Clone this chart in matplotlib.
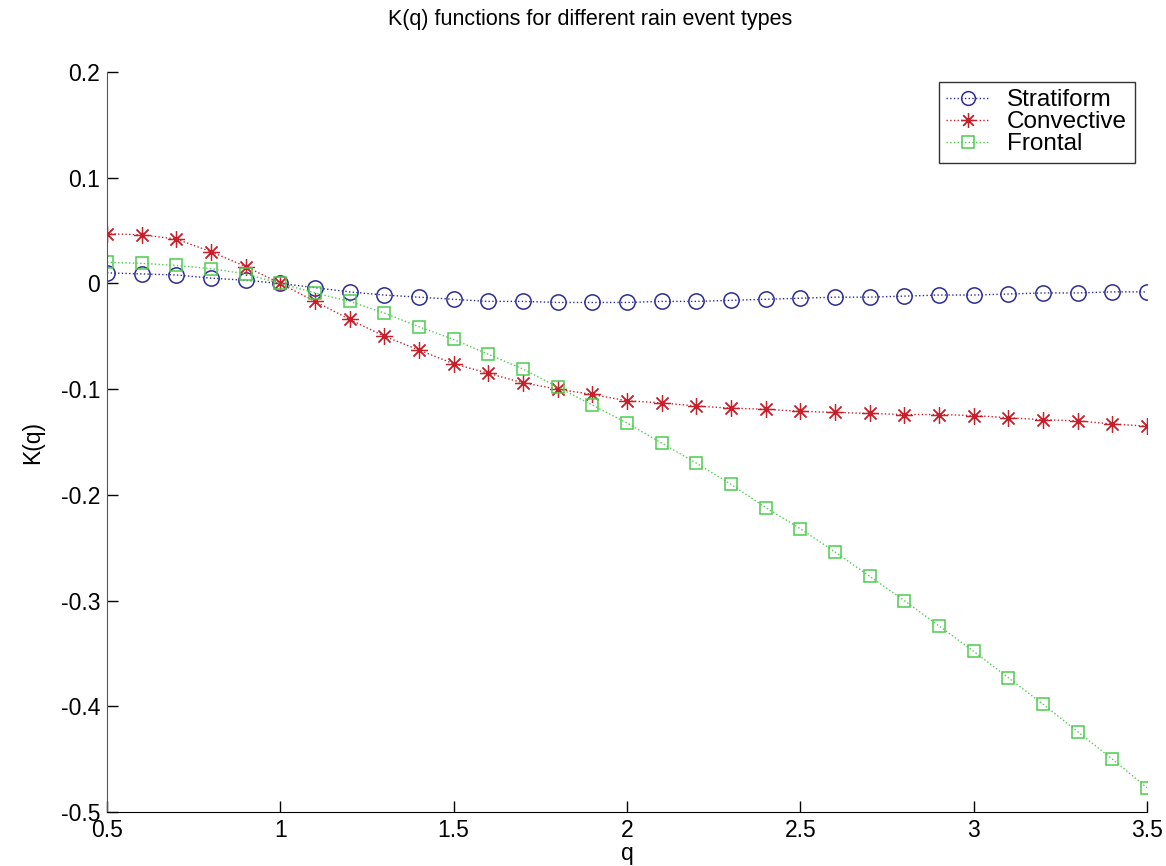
import numpy as np
import matplotlib
matplotlib.use("Agg")
import matplotlib.pyplot as plt
from matplotlib.ticker import FormatStrFormatter

plt.rcParams['font.family'] = ['Liberation Sans', 'DejaVu Sans']
plt.rcParams['axes.unicode_minus'] = False

q = [0.5, 0.6, 0.7, 0.8, 0.9, 1.0, 1.1, 1.2, 1.3, 1.4, 1.5, 1.6, 1.7, 1.8, 1.9, 2.0,
     2.1, 2.2, 2.3, 2.4, 2.5, 2.6, 2.7, 2.8, 2.9, 3.0, 3.1, 3.2, 3.3, 3.4, 3.5]

stratiform = [0.010, 0.009, 0.008, 0.005, 0.003, 0.0, -0.004, -0.008, -0.011, -0.013,
              -0.015, -0.017, -0.017, -0.018, -0.018, -0.018, -0.017, -0.017, -0.016,
              -0.015, -0.014, -0.013, -0.013, -0.012, -0.011, -0.011, -0.010, -0.009,
              -0.009, -0.008, -0.008]

convective = [0.047, 0.046, 0.042, 0.030, 0.016, 0.0, -0.017, -0.034, -0.050, -0.063,
              -0.076, -0.085, -0.094, -0.100, -0.105, -0.111, -0.113, -0.116, -0.118,
              -0.119, -0.121, -0.122, -0.123, -0.124, -0.124, -0.125, -0.127, -0.129,
              -0.130, -0.133, -0.135]

frontal = [0.020, 0.019, 0.017, 0.014, 0.009, 0.0, -0.009, -0.017, -0.028, -0.041,
           -0.053, -0.067, -0.081, -0.098, -0.115, -0.132, -0.151, -0.170, -0.190,
           -0.212, -0.232, -0.254, -0.277, -0.300, -0.324, -0.348, -0.373, -0.398,
           -0.424, -0.450, -0.477]

fig = plt.figure(figsize=(11.66, 8.66), dpi=100)
ax = fig.add_axes([107/1166, 54/866, 1040/1166, 740/866])

ax.plot(q, stratiform, linestyle=':', linewidth=1, color='#2b2b96', marker='o',
        markersize=11, markerfacecolor='none', markeredgewidth=1.1, label='Stratiform')
ax.plot(q, convective, linestyle=':', linewidth=1, color='#c8202a', marker=(8, 2, 0),
        markersize=12, markeredgewidth=0.9, label='Convective')
ax.plot(q, frontal, linestyle=':', linewidth=1, color='#4ccc4c', marker='s',
        markersize=9, markerfacecolor='none', markeredgewidth=1.1, label='Frontal')

ax.set_xlim(0.5, 3.5)
ax.set_ylim(-0.5, 0.2)
ax.set_xticks([0.5, 1, 1.5, 2, 2.5, 3, 3.5])
ax.set_yticks([-0.5, -0.4, -0.3, -0.2, -0.1, 0, 0.1, 0.2])
ax.xaxis.set_major_formatter(FormatStrFormatter('%g'))
ax.yaxis.set_major_formatter(FormatStrFormatter('%g'))
ax.tick_params(direction='in', length=8, width=1, labelsize=16.5, pad=5)

ax.spines['top'].set_visible(False)
ax.spines['right'].set_visible(False)
ax.spines['left'].set_color('#555555')
ax.spines['bottom'].set_color('black')

ax.set_xlabel('q', fontsize=16.5, labelpad=0)
ax.set_ylabel('K(q)', fontsize=16.5, labelpad=12)
ax.set_title('K(q) functions for different rain event types', fontsize=15.5,
             x=0.465, pad=34)

leg = ax.legend(loc='upper right', bbox_to_anchor=(0.988, 0.9865), borderaxespad=0,
                fancybox=False, edgecolor='black', fontsize=17.5, handlelength=1.8,
                labelspacing=0.0, borderpad=0.3, handletextpad=0.7, markerscale=0.9)
leg.get_frame().set_linewidth(1)

fig.savefig("out.png", dpi=100)
